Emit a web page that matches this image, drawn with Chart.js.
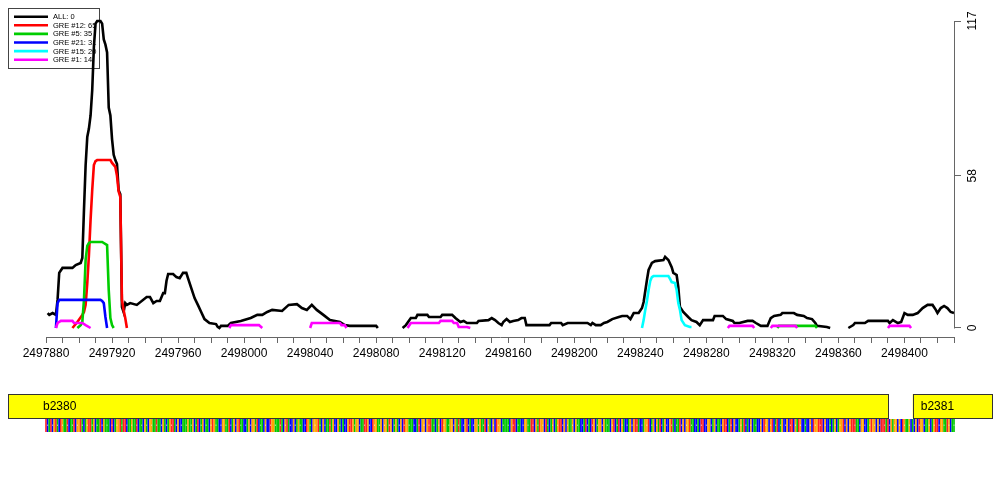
<!DOCTYPE html>
<html><head><meta charset="utf-8">
<script src="https://cdn.jsdelivr.net/npm/chart.js@4.4.0/dist/chart.umd.min.js"></script>
<style>html,body{margin:0;padding:0;background:#fff;}</style>
</head><body>
<canvas id="c" width="1000" height="500"></canvas>
<script>
// ---------- data ----------
const POS0 = 2497880;              // genomic coordinate of offset 0
const X_MIN = 2497880, X_MAX = 2498430;
const Y_MIN = -3.43, Y_MAX = 117;
const yTickValues = [0, 58, 117];
const xTickValues = [];
for (let v = X_MIN; v <= X_MAX; v += 10) xTickValues.push(v);

const seriesNames  = ['ALL: 0', 'GRE #12: 65', 'GRE #5: 35', 'GRE #21: 31', 'GRE #15: 20', 'GRE #1: 14'];
const seriesColors = ['#000000', '#FF0000', '#00CD00', '#0000FF', '#00FFFF', '#FF00FF'];

// ALL (offsets from POS0, values); null = gap
const allPos = [1,2,4,6,7,8,10,16,18,21,22,23,24,25,26,27,28,29,30,31,33,34,35,36,37,38,39,40,41,42,43,44,45,46,47,48,49,51,55,61,63,65,67,69,71,72,73,74,77,79,81,83,85,86,88,90,92,94,96,99,103,104,105,106,110,112,118,124,128,131,134,137,143,147,152,155,158,161,164,168,172,178,181,184,200,201,
  208,
  216,218,221,224,225,231,232,239,240,246,248,251,253,255,261,262,268,270,272,274,276,277,279,281,283,286,288,290,291,305,306,312,313,316,328,330,331,333,336,338,340,343,347,349,352,354,356,359,361,362,364,365,367,369,374,375,377,379,380,382,383,384,386,389,391,394,396,398,404,405,410,412,416,417,420,425,428,430,433,437,439,441,445,446,453,455,459,461,464,466,467,473,475,
  480,
  486,489,490,496,498,510,511,513,516,518,520,522,525,528,531,534,537,539,540,542,544,546,548,550];
const allVal = [5.7,5.0,5.7,5.0,10.7,21.0,22.9,22.9,24.0,24.8,26.7,45,62,72.8,76,81,90.7,107,116,117,117,116,110,108,105,84,81,72,66,64,62.5,52.5,51,8,6.1,9.5,8.8,9.5,8.8,11.8,11.8,9.5,10.3,10.3,13.3,13.3,18,20.6,20.6,19.4,19,21,21,19,15.2,11.4,8.8,6.1,3.4,1.9,1.5,0.4,0,0.8,0.8,1.9,2.7,3.8,5.0,5.0,6.1,6.9,6.5,8.8,9.1,7.6,6.9,8.8,6.9,5.0,3.0,2.3,1.1,0.8,0.8,0,
  null,
  0,1.1,3.8,3.8,5.0,5.0,4.2,4.2,5.0,5.0,3.8,2.3,2.7,1.9,1.9,2.7,3.0,3.8,3.0,1.9,1.1,2.3,3.4,2.3,2.7,3.0,3.8,3.8,1.1,1.1,1.9,1.9,1.1,1.9,1.9,1.1,1.9,1.1,1.1,1.9,2.3,3.4,4.2,4.6,4.6,3.4,5.7,5.7,7.6,9.9,18.3,22.1,24.8,25.5,25.9,27.1,25.9,23.2,21,20.2,15.6,8.0,6.1,4.2,3.0,2.3,1.1,3.0,3.0,4.6,4.6,3.4,2.7,1.9,1.9,2.7,2.7,1.9,0.8,0.8,3.8,4.6,5.0,5.7,5.7,5.0,4.6,3.8,3.4,1.9,0.8,0.4,0,
  null,
  0,1.1,1.9,1.9,2.7,2.7,1.9,3.0,1.9,2.3,5.7,5.0,5.0,5.7,7.6,8.8,8.8,6.9,5.7,7.6,8.4,7.6,6.1,5.7];

const gre12Pos = [16,19,22,23,24,25,26,27,28,29,30,31,39,40,42,43,44,45,46,47,48,49];
const gre12Val = [0,2.3,5.0,6.1,8.8,17.1,27.8,41.2,52.6,62.1,63.6,64,64,62.9,61.4,58,52,50,10.7,6.9,3.8,0];

const gre5Pos = [19,21,22,23,24,25,26,27,34,35,37,38,39,40,41, 100, 443,444,466,467];
const gre5Val = [0,1.1,2.3,10.7,26,31.3,32.4,32.8,32.8,32.4,31.6,14.5,3.8,1.1,0, null, 0,0.8,0.8,0];

const gre21Pos = [6,7,8,33,34,35,36,37];
const gre21Val = [0,9.5,10.7,10.7,10.3,9.5,4.2,0];

const gre15Pos = [361,362,363,364,365,366,367,368,377,378,379,381,382,383,384,385,387,390,391];
const gre15Val = [0,3.0,6.9,10.3,14.5,17.9,19.4,19.8,19.8,18.7,17.5,17.1,14.5,9.5,6.9,3.0,1.1,0.4,0.4];

const gre1Pos = [6,7,9,16,17,22,24,27, 60, 111,112,129,131, 140, 160,161,178,179,181,182, 200, 219,221,238,239,246,247,249,250,255,257, 300, 413,414,428,429, 435, 439,440,454,455, 480, 510,511,523,524];
const gre1Val = [0,1.9,2.7,2.7,1.9,1.9,1.1,0, null, 0,1.1,1.1,0, null, 0,1.9,1.9,1.1,1.1,0, null, 0,1.9,1.9,2.7,2.7,1.9,1.9,0.4,0.4,0, null, 0,0.8,0.8,0, null, 0,0.8,0.8,0, null, 0,0.8,0.8,0];

// genes (genomic coordinates)
const geneNames = ['b2380', 'b2381'];
const geneStart = [2496700, 2498405];
const geneEnd   = [2498390, 2499200];
const TRACK_PAD = 23;   // gene track extends this many bases beyond the axis range

// DNA sequence strip (estimated from the colour pattern in the picture)
const seqStart = 2497880;
const sequence =
  'TCATCGTACTGAATCAATCGGTACAGTTAGCAATCGAAACTCAGGTATTC' +
  'AAGAATCAACGACGGAATAACGACAGTTACGCCAAAGAAGCATCAGCAAC' +
  'GTGAACCGGAATCAGCGTAACCAGCGGATCAACGCCTGGAAATACGTACC' +
  'GCAGAACCTGACGGGTACGCAATAGCCGACACCGTTGAGGCAATTGCCTG' +
  'GAAGCGGATGCAGACGCTGGAAACCATCGGCGTTAACAGCTGGAAGGCGA' +
  'TACCGTCACCGGAGAATCGACGCTGGCAAAACGTTCAACCGGAATTCGAT' +
  'GGCTACAGCAGTTCGCGAAGCGAACCATCACTGCAGGCGAAACGTCATCG' +
  'ACCAGCGTTACCAGGTCAGCGATCAGCCGTACAATCGCGGTAACCACTTC' +
  'CGGCAGCAACGTTCATCGCCAGATCACGCAACCGCTGGCGTCATCAGCCG' +
  'CTTCGATGCCACCGCTGGTTTCGCCACAGCAGGTCGCGTTTAACGGCCAG' +
  'TGGCGCTTTATCGAGGCGCTGAAGCACGCTGGCAAGCAGTTCGGAATGCAA';
const baseColors = { A: '#00C800', C: '#0000FF', G: '#FFA500', T: '#FF2020' };

// ---------- build ----------
function pts(pos, val) { return pos.map((p, i) => ({ x: POS0 + p, y: val[i] })); }
const seriesPos = [allPos, gre12Pos, gre5Pos, gre21Pos, gre15Pos, gre1Pos];
const seriesVal = [allVal, gre12Val, gre5Val, gre21Val, gre15Val, gre1Val];

const FONT = "'Liberation Sans', Arial, Helvetica, sans-serif";

const datasets = seriesNames.map((n, i) => ({
  label: n,
  data: pts(seriesPos[i], seriesVal[i]),
  borderColor: seriesColors[i],
  backgroundColor: seriesColors[i],
  borderWidth: 2.6,
  pointRadius: 0,
  tension: 0,
  spanGaps: false,
  fill: false,
  clip: false,
  order: seriesNames.length - i
}));

const extras = {
  id: 'extras',
  beforeDatasetsDraw(chart) {
    const ctx = chart.ctx;
    ctx.save();
    ctx.fillStyle = '#fff';
    ctx.fillRect(8.5, 8.5, 91, 60);
    ctx.strokeStyle = '#444';
    ctx.lineWidth = 1;
    ctx.strokeRect(8.5, 8.5, 91, 60);
    ctx.font = '7.5px ' + FONT;
    ctx.textBaseline = 'middle';
    ctx.textAlign = 'left';
    seriesNames.forEach((n, i) => {
      const y = 16.7 + i * 8.6;
      ctx.strokeStyle = seriesColors[i];
      ctx.lineWidth = 2.6;
      ctx.beginPath(); ctx.moveTo(14, y); ctx.lineTo(48, y); ctx.stroke();
      ctx.fillStyle = '#000';
      ctx.fillText(n, 53, y + 0.5);
    });
    ctx.restore();
  },
  afterDraw(chart) {
    const ctx = chart.ctx;
    const xs = chart.scales.x, ys = chart.scales.y;
    ctx.save();
    const ax = Math.round(ys.left) + 0.5;
    ctx.strokeStyle = '#666'; ctx.lineWidth = 1;
    ctx.beginPath();
    ctx.moveTo(ax, Math.round(ys.getPixelForValue(yTickValues[0])) + 0.5);
    ctx.lineTo(ax, Math.round(ys.getPixelForValue(yTickValues[yTickValues.length - 1])) + 0.5);
    ctx.stroke();

    const tL = xs.getPixelForValue(X_MIN - TRACK_PAD), tR = xs.getPixelForValue(X_MAX + TRACK_PAD);
    const gTop = 394, gBot = 418;
    geneNames.forEach((g, i) => {
      const l = Math.max(tL, xs.getPixelForValue(geneStart[i]));
      const r = Math.min(tR, xs.getPixelForValue(geneEnd[i]));
      ctx.fillStyle = '#FFFF00';
      ctx.fillRect(l, gTop, r - l, gBot - gTop);
      ctx.strokeStyle = '#333'; ctx.lineWidth = 1;
      ctx.strokeRect(Math.round(l) + 0.5, gTop + 0.5, Math.round(r - l), gBot - gTop);
      ctx.fillStyle = '#000';
      ctx.font = '12px ' + FONT;
      ctx.textBaseline = 'middle'; ctx.textAlign = 'left';
      ctx.fillText(g, Math.max(l, xs.left - 11) + 8, (gTop + gBot) / 2 + 0.5);
    });

    // sequence strip, one coloured cell per base on the x scale
    for (let k = 0; k < sequence.length; k++) {
      const p = seqStart + k;
      const a = xs.getPixelForValue(p - 0.5), b = xs.getPixelForValue(p + 0.5);
      ctx.fillStyle = baseColors[sequence[k]] || '#ccc';
      ctx.fillRect(a, 419, b - a, 13);
      ctx.fillStyle = 'rgba(255,255,255,0.55)';
      if (k % 3 === 1) ctx.fillRect(a + 0.3, 424.5, Math.max(0.8, b - a - 0.6), 1.5);
    }
    ctx.restore();
  }
};

new Chart(document.getElementById('c'), {
  type: 'line',
  data: { datasets },
  options: {
    responsive: false,
    animation: false,
    layout: { padding: { left: 46, top: 21, right: 0, bottom: 133 } },
    plugins: { legend: { display: false }, tooltip: { enabled: false } },
    scales: {
      x: {
        type: 'linear', position: 'bottom', min: X_MIN, max: X_MAX,
        afterBuildTicks: s => { s.ticks = xTickValues.map(v => ({ value: v })); },
        afterFit: s => { s.height = 30; },
        ticks: {
          autoSkip: false, minRotation: 0, maxRotation: 0, padding: 3, color: '#000',
          font: { family: FONT, size: 12 },
          callback: v => ((v - X_MIN) % 40 === 0 ? String(v) : '')
        },
        grid: { display: true, drawOnChartArea: false, drawTicks: true, tickLength: 6, tickColor: '#666', tickWidth: 1 },
        border: { display: true, color: '#666', width: 1 }
      },
      y: {
        type: 'linear', position: 'right', min: Y_MIN, max: Y_MAX,
        afterBuildTicks: s => { s.ticks = yTickValues.map(v => ({ value: v })); },
        afterFit: s => { s.width = 46; },
        ticks: {
          minRotation: 90, maxRotation: 90, crossAlign: 'center', padding: 2, color: '#000',
          font: { family: FONT, size: 12 },
          callback: v => String(v)
        },
        grid: { display: true, drawOnChartArea: false, drawTicks: true, tickLength: 7, tickColor: '#666', tickWidth: 1 },
        border: { display: false }
      }
    }
  },
  plugins: [extras]
});
</script>
</body></html>
